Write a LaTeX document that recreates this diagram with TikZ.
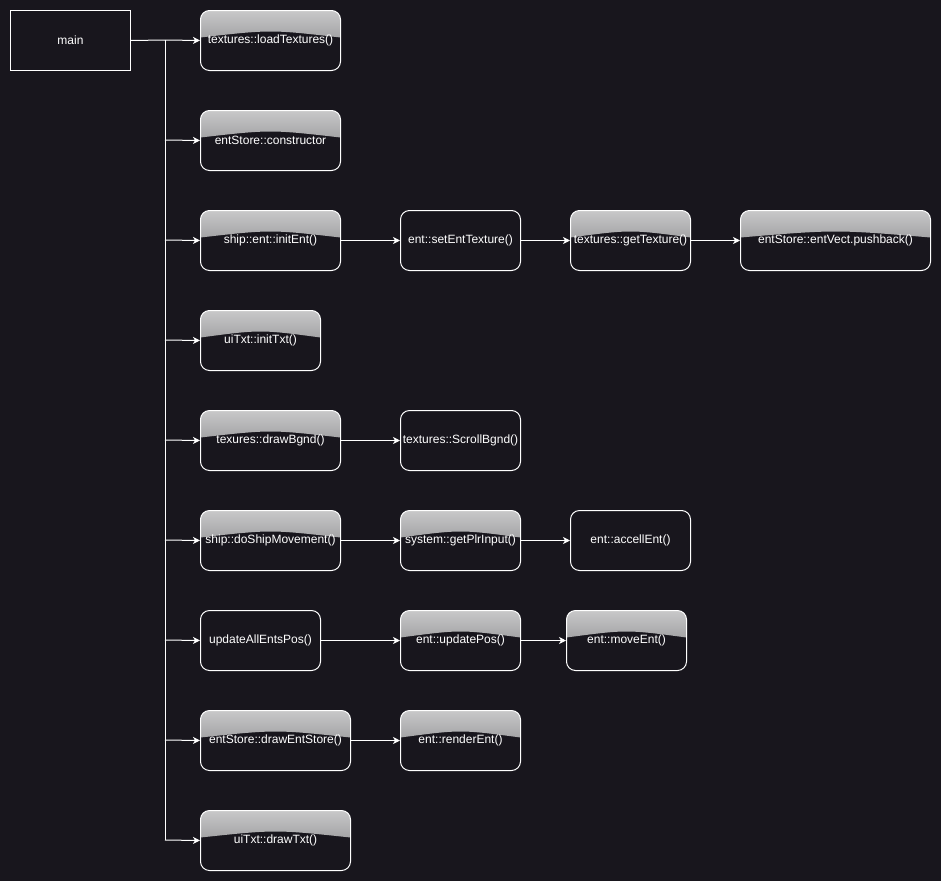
\documentclass[tikz,border=0pt]{standalone}
\usepackage{fontspec}
\setmainfont{Liberation Sans}
\usetikzlibrary{arrows.meta}
\definecolor{bg}{RGB}{24,22,29}
\definecolor{glossTop}{RGB}{240,240,240}
\definecolor{glossMid}{RGB}{160,160,162}
\definecolor{glossBot}{RGB}{70,70,74}
\pgfdeclareverticalshading{glossshade}{100bp}{color(0bp)=(glossBot); color(50bp)=(glossMid); color(100bp)=(glossTop)}
\tikzset{
  base/.style={draw=white, line width=1pt, text=white, inner sep=0pt,
    minimum height=60pt, anchor=north west,
    font=\fontsize{12pt}{14pt}\selectfont},
  plainbox/.style={base, rounded corners=9pt},
  glossbox/.style={base, rounded corners=9pt,
    path picture={
      \shade[sharp corners, shading=glossshade]
        (path picture bounding box.north west)
        -- ([yshift=-27pt]path picture bounding box.north west)
        .. controls ([yshift=-19pt]path picture bounding box.north)
        .. ([yshift=-27pt]path picture bounding box.north east)
        -- (path picture bounding box.north east) -- cycle;
    }},
  squarebox/.style={base},
  conn/.style={draw=white, line width=1pt},
  arr/.style={conn, -{Stealth[length=7pt,width=7pt,inset=2pt]}}
}
\begin{document}
\begin{tikzpicture}[x=1pt,y=1pt]
\fill[bg] (0,0) rectangle (941,-881);
\useasboundingbox (0,0) rectangle (941,-881);

\node[squarebox, minimum width=120pt] (main) at (10,-10) {main};

\node[glossbox, minimum width=140pt] (n1) at (200,-10) {textures::loadTextures()};
\node[glossbox, minimum width=140pt] (n2) at (200,-110) {entStore::constructor};
\node[glossbox, minimum width=140pt] (n3) at (200,-210) {ship::ent::initEnt()};
\node[glossbox, minimum width=120pt] (n4) at (200,-310) {uiTxt::initTxt()};
\node[glossbox, minimum width=140pt] (n5) at (200,-410) {texures::drawBgnd()};
\node[glossbox, minimum width=140pt] (n6) at (200,-510) {ship::doShipMovement()};
\node[plainbox, minimum width=120pt] (n7) at (200,-610) {updateAllEntsPos()};
\node[glossbox, minimum width=150pt] (n8) at (200,-710) {entStore::drawEntStore()};
\node[glossbox, minimum width=150pt] (n9) at (200,-810) {uiTxt::drawTxt()};

\node[plainbox, minimum width=120pt] (r3a) at (400,-210) {ent::setEntTexture()};
\node[glossbox, minimum width=120pt] (r3b) at (570,-210) {textures::getTexture()};
\node[glossbox, minimum width=190pt] (r3c) at (740,-210) {entStore::entVect.pushback()};

\node[plainbox, minimum width=120pt] (r5a) at (400,-410) {textures::ScrollBgnd()};

\node[glossbox, minimum width=120pt] (r6a) at (400,-510) {system::getPlrInput()};
\node[plainbox, minimum width=120pt] (r6b) at (570,-510) {ent::accellEnt()};

\node[glossbox, minimum width=120pt] (r7a) at (400,-610) {ent::updatePos()};
\node[glossbox, minimum width=120pt] (r7b) at (566,-610) {ent::moveEnt()};

\node[glossbox, minimum width=120pt] (r8a) at (400,-710) {ent::renderEnt()};

\foreach \i in {1,...,9} {
  \coordinate (j\i) at (165,{60-100*\i});
}
\draw[conn] (main.east) -- (j1);
\draw[conn] (j1) -- (j9);
\foreach \i in {1,...,9} {
  \draw[arr] (j\i) -- (n\i.west);
}

\draw[arr] (n3.east) -- (r3a.west);
\draw[arr] (r3a.east) -- (r3b.west);
\draw[arr] (r3b.east) -- (r3c.west);
\draw[arr] (n5.east) -- (r5a.west);
\draw[arr] (n6.east) -- (r6a.west);
\draw[arr] (r6a.east) -- (r6b.west);
\draw[arr] (n7.east) -- (r7a.west);
\draw[arr] (r7a.east) -- (r7b.west);
\draw[arr] (n8.east) -- (r8a.west);
\end{tikzpicture}
\end{document}
